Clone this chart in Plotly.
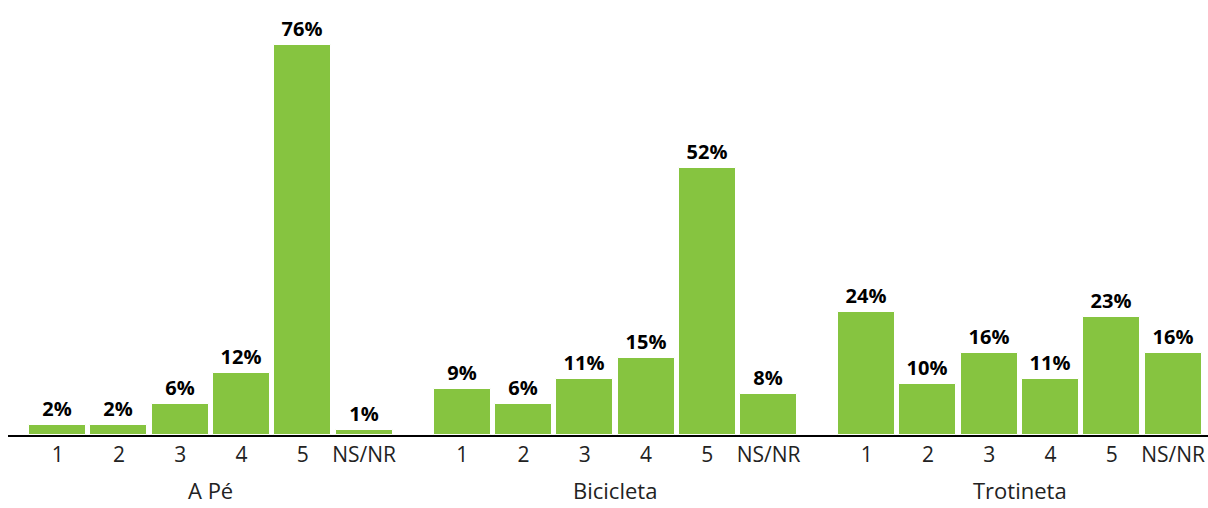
import plotly.graph_objects as go

groups = ["A Pé", "Bicicleta", "Trotineta"]
categories = ["1", "2", "3", "4", "5", "NS/NR"]
a_pe = [2, 2, 6, 12, 76, 1]
bicicleta = [9, 6, 11, 15, 52, 8]
trotineta = [24, 10, 16, 11, 23, 16]

GROUP_STEP = 6.6  # spacing between groups, in bar units
GREEN = "#86C440"
FONT = "Open Sans, Noto Sans, sans-serif"

fig = go.Figure()

xs, ys, ticktext = [], [], []
for g, vals in enumerate([a_pe, bicicleta, trotineta]):
    for j, v in enumerate(vals):
        xs.append(g * GROUP_STEP + j)
        ys.append(v)
        ticktext.append(categories[j])

fig.add_trace(go.Bar(
    x=xs, y=ys,
    width=0.93,
    marker=dict(color=GREEN, line=dict(color="white", width=1)),
    texttemplate="%{y}%",
    textposition="outside",
    textfont=dict(family=FONT, size=20, color="black", weight="bold"),
    cliponaxis=False,
    showlegend=False,
))

# group names under the tick labels; bottom of the box kept inside the page
for g, name in enumerate(groups):
    fig.add_annotation(
        text=name, x=g * GROUP_STEP + 2.5, xref="x",
        y=-0.167, yref="paper", yanchor="bottom",
        showarrow=False, borderpad=0,
        font=dict(family=FONT, size=22, color="#222"),
    )

fig.update_layout(
    width=1208, height=508,
    margin=dict(l=8, r=0, t=10, b=73),
    plot_bgcolor="white",
    paper_bgcolor="white",
    bargap=0,
    xaxis=dict(
        range=[-0.81, 18.77],
        tickvals=xs, ticktext=ticktext,
        showline=True, linecolor="black", linewidth=1.5,
        showgrid=False, zeroline=False, ticks="",
        tickfont=dict(family=FONT, size=21, color="#222"),
    ),
    yaxis=dict(range=[0, 82.8], visible=False),
)

# drop the default body margin so the figure fills the window exactly
fig.write_html("out.html", config={"displayModeBar": False},
               post_script="document.body.style.margin='0';")
